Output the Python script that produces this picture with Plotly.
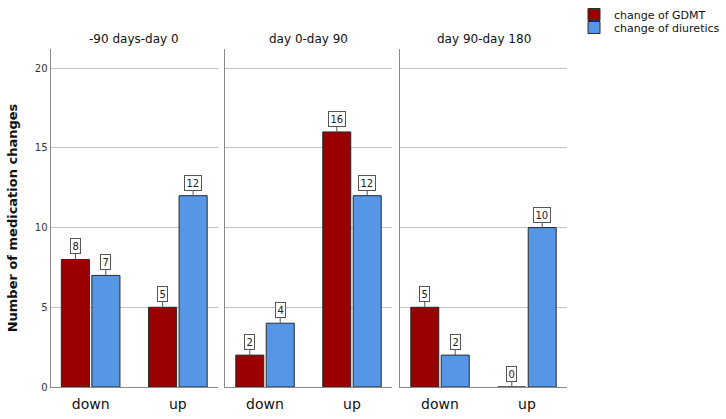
import plotly.graph_objects as go
from plotly.subplots import make_subplots

periods = ["-90 days-day 0", "day 0-day 90", "day 90-day 180"]
directions = ["down", "up"]
gdmt = [[8, 5], [2, 16], [5, 0]]
diuretics = [[7, 12], [4, 12], [2, 10]]
series_names = ["change of GDMT", "change of diuretics"]
colors = ["#990000", "#5596E6"]

FONT = "DejaVu Sans"
W, H = 726, 419
ml, mr, mt, mb = 50, 159, 49, 32
pw = W - ml - mr
doms_px = [(0.5, 168), (175, 342), (350, 517)]

fig = make_subplots(rows=1, cols=3, shared_yaxes=False)
for i, per in enumerate(periods):
    for s, (vals, name, col) in enumerate(zip([gdmt[i], diuretics[i]], series_names, colors)):
        fig.add_trace(go.Bar(
            x=directions, y=vals, name=name, marker_color=col,
            marker_line_color="#2a2a2a", marker_line_width=1,
            offsetgroup=str(s), legend="legend" if s == 0 else "legend2",
            showlegend=(i == 0),
        ), row=1, col=i + 1)
        for j, d in enumerate(directions):
            xoff = -15.2 if s == 0 else 15.2
            fig.add_annotation(
                x=d, y=vals[j], xref=f"x{i+1}" if i else "x", yref=f"y{i+1}" if i else "y",
                text=str(vals[j]), showarrow=True, arrowhead=0, arrowwidth=1, arrowcolor="#555555",
                ax=0, ay=-13, xshift=xoff, standoff=0,
                bgcolor="white", bordercolor="#555555", borderwidth=1, borderpad=1.5,
                font=dict(family=FONT, size=10, color="#222222"),
            )

for i in range(3):
    a, b = doms_px[i]
    xa = "xaxis" if i == 0 else f"xaxis{i+1}"
    ya = "yaxis" if i == 0 else f"yaxis{i+1}"
    fig.layout[xa].update(
        domain=[a / pw, b / pw], type="category", categoryorder="array", categoryarray=directions,
        range=[-0.46, 1.46], showline=True, linecolor="#8a8a8a", linewidth=1, ticks="",
        tickfont=dict(family=FONT, size=14, color="#111111"), showgrid=False,
        ticklabelstandoff=4,
    )
    fig.layout[ya].update(
        range=[0, 21.2], showgrid=True, gridcolor="#c4c4c4", gridwidth=1, zeroline=False,
        showline=True, linecolor="#8a8a8a", linewidth=1,
        tickvals=[0, 5, 10, 15, 20], showticklabels=(i == 0), ticks="",
        tickfont=dict(family=FONT, size=10, color="#333333"),
    )
    fig.add_annotation(
        x=(a + b) / 2 / pw, y=1, xref="paper", yref="paper", yanchor="bottom", xanchor="center",
        yshift=1, text=periods[i], showarrow=False,
        font=dict(family=FONT, size=12, color="#111111"),
    )

fig.layout.yaxis.title = dict(text="<b>Number of medication changes</b>",
                              font=dict(family=FONT, size=13, color="#111111"), standoff=14)

leg_common = dict(xref="container", yref="container", xanchor="left", yanchor="top",
                  font=dict(family=FONT, size=11, color="#111111"), itemwidth=30,
                  bgcolor="rgba(0,0,0,0)", borderwidth=0)
fig.update_layout(
    width=W, height=H, margin=dict(l=ml, r=mr, t=mt, b=mb, autoexpand=False),
    paper_bgcolor="white", plot_bgcolor="white",
    barmode="group", bargap=0.30, bargroupgap=0.08,
    legend=dict(x=574 / W, y=1.0, **leg_common),
    legend2=dict(x=574 / W, y=1.0 - 13 / H, **leg_common),
    font=dict(family=FONT),
)
fig.write_html("out.html")
